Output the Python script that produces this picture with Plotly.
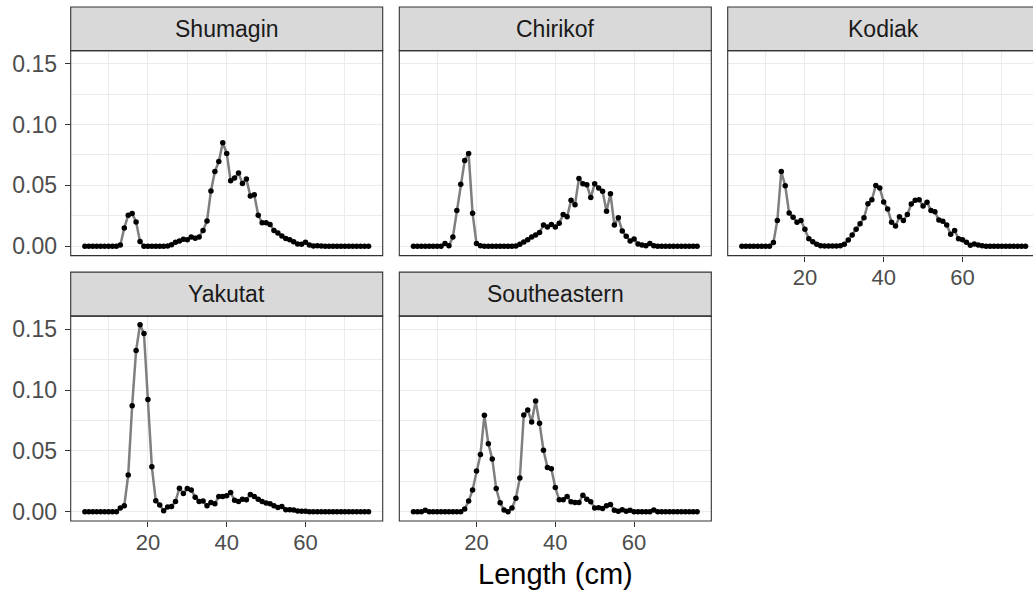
import plotly.graph_objects as go

# Length bins (cm)
length_cm = list(range(4, 77))

# Proportion at length, by region
shumagin = [0, 0, 0, 0, 0, 0, 0, 0, 0,
            0.001, 0.015, 0.0255, 0.027, 0.020, 0.004, 0, 0, 0, 0, 0, 0,
            0.0003, 0.0012, 0.0033, 0.0043, 0.0057, 0.0054, 0.0076, 0.0065, 0.0076, 0.013,
            0.0207, 0.0454, 0.0614, 0.0696, 0.085, 0.0763, 0.0538, 0.056, 0.0601, 0.0516,
            0.0552, 0.0413, 0.0424, 0.0255, 0.0193, 0.0193, 0.0179, 0.013, 0.0109, 0.0084,
            0.0063, 0.0054, 0.0038, 0.0019, 0.0016, 0.0033, 0.0011, 0.0003, 0.0005, 0.0003,
            0, 0, 0, 0, 0, 0, 0, 0, 0, 0, 0, 0]

chirikof = [0, 0, 0, 0, 0, 0, 0, 0,
            0.0022, 0.0005, 0.0076, 0.0293, 0.051, 0.0704, 0.0763, 0.0272, 0.0022, 0.0005,
            0, 0, 0, 0, 0, 0, 0, 0, 0.0003,
            0.0016, 0.0035, 0.0054, 0.0076, 0.0092, 0.0114, 0.0174, 0.0158, 0.0179, 0.0158,
            0.019, 0.026, 0.0242, 0.0378, 0.0342, 0.0557, 0.0514, 0.0505, 0.040, 0.0514,
            0.0478, 0.0451, 0.0288, 0.0432, 0.0174, 0.0234, 0.0125, 0.0082, 0.0043, 0.006,
            0.0019, 0.0011, 0.0005, 0.0022, 0.0005,
            0, 0, 0, 0, 0, 0, 0, 0, 0, 0, 0]

kodiak = [0, 0, 0, 0, 0, 0, 0, 0,
          0.003, 0.0212, 0.0614, 0.0497, 0.0274, 0.0239, 0.0198, 0.0212, 0.0139, 0.0062,
          0.0038, 0.0016, 0.0005, 0.0003, 0.0003, 0.0003, 0.0003, 0.0005, 0.0016, 0.0052,
          0.0092, 0.0139, 0.0185, 0.0234, 0.035, 0.0383, 0.050, 0.0478, 0.0364, 0.0307,
          0.0198, 0.0166, 0.0242, 0.0212, 0.026, 0.0348, 0.0378, 0.0383, 0.0331, 0.0361,
          0.0293, 0.0283, 0.0215, 0.0206, 0.0174, 0.0098, 0.013, 0.0062, 0.0054, 0.0033,
          0.0008, 0.0019, 0.0011, 0.0005,
          0, 0, 0, 0, 0, 0, 0, 0, 0, 0, 0]

yakutat = [0, 0, 0, 0, 0, 0, 0, 0, 0,
           0.003, 0.0049, 0.0301, 0.0871, 0.1324, 0.1536, 0.1465, 0.0922, 0.0369, 0.009,
           0.0054, 0.0008, 0.0038, 0.0043, 0.0084, 0.0193, 0.0149, 0.019, 0.0179, 0.0119,
           0.0084, 0.0087, 0.0049, 0.0076, 0.0065, 0.0125, 0.0125, 0.013, 0.0157, 0.0095,
           0.0084, 0.0103, 0.0098, 0.0141, 0.0125, 0.0103, 0.0084, 0.0071, 0.0065, 0.0049,
           0.0035, 0.0043, 0.0016, 0.0016, 0.0014, 0.0005, 0.0003, 0.0003,
           0, 0, 0, 0, 0, 0, 0, 0, 0, 0, 0, 0, 0, 0, 0, 0]

southeastern = [0, 0, 0, 0.0011,
                0, 0, 0, 0, 0, 0, 0, 0, 0,
                0.0022, 0.0087, 0.0179, 0.0334, 0.0469, 0.0792, 0.0559, 0.0434, 0.019, 0.0073,
                0.0014, 0.0, 0.003, 0.0111, 0.0277, 0.0795, 0.0836, 0.0738, 0.0909, 0.0727,
                0.0505, 0.0364, 0.0353, 0.0198, 0.0098, 0.0098, 0.0125, 0.0081, 0.0076, 0.0076,
                0.0136, 0.0103, 0.0081, 0.003, 0.0033, 0.0027, 0.0049, 0.006, 0.0011, 0.0003,
                0.0016, 0.0003, 0.0011,
                0, 0, 0, 0, 0,
                0.0014,
                0, 0, 0, 0, 0, 0, 0, 0, 0, 0, 0]

regions = ["Shumagin", "Chirikof", "Kodiak", "Yakutat", "Southeastern"]
series = [shumagin, chirikof, kodiak, yakutat, southeastern]

y_ticks = [0.0, 0.05, 0.10, 0.15]
y_tick_text = ["0.00", "0.05", "0.10", "0.15"]
x_ticks = [20, 40, 60]
x_tick_text = ["20", "40", "60"]

# ---- layout geometry (pixels) ----
W, H = 1033, 598
col_px = [(70.7, 382.7), (399.3, 711.3), (727.7, 1039.7)]
row_px = [(51.0, 257.3), (318.3, 524.5)]
strip_px = [(7.0, 51.0), (274.0, 318.3)]
x_lo, x_hi = 0.4, 79.6
y_lo, y_hi = -0.00765, 0.1607

panel_pos = [(0, 0), (0, 1), (0, 2), (1, 0), (1, 1)]

BORDER = "#333333"
GRID = "#EBEBEB"
FONT = "Liberation Sans"

fig = go.Figure()
shapes = []
annotations = []

def px_x(v):
    return v / W

def px_y(v):
    return 1 - v / H

for i, (name, vals) in enumerate(zip(regions, series)):
    r, c = panel_pos[i]
    k = "" if i == 0 else str(i + 1)
    xl, xr = col_px[c]
    yt, yb = row_px[r]
    # clip the last column at the figure edge, keeping the same scale
    scale = (xr - xl) / (x_hi - x_lo)
    xr_vis = min(xr, W)
    x_max = x_lo + (xr_vis - xl) / scale

    fig.add_trace(go.Scatter(
        x=length_cm, y=vals, mode="lines+markers",
        line=dict(color="#7F7F7F", width=2.5),
        marker=dict(color="black", size=5.5),
        xaxis="x" + k, yaxis="y" + k, showlegend=False, hoverinfo="skip",
    ))

    show_x_labels = (r == 1) or (r == 0 and c == 2)
    fig.update_layout(**{
        "xaxis" + k: dict(
            domain=[px_x(xl), px_x(xr_vis)], range=[x_lo, x_max], anchor="y" + k,
            tickmode="array", tickvals=x_ticks, ticktext=x_tick_text,
            showticklabels=show_x_labels,
            ticks="outside" if show_x_labels else "", ticklen=5, tickwidth=1.1, tickcolor=BORDER,
            tickfont=dict(family=FONT, size=22, color="#4D4D4D"),
            ticklabelstandoff=-3,
            showgrid=True, gridcolor=GRID, gridwidth=1.1, zeroline=False, showline=False,
            minor=dict(tickmode="array", tickvals=[10, 30, 50, 70], showgrid=True,
                       gridcolor=GRID, gridwidth=0.55, ticks=""),
            fixedrange=True,
        ),
        "yaxis" + k: dict(
            domain=[px_y(yb), px_y(yt)], range=[y_lo, y_hi], anchor="x" + k,
            tickmode="array", tickvals=y_ticks, ticktext=y_tick_text,
            showticklabels=(c == 0),
            ticks="outside" if c == 0 else "", ticklen=5, tickwidth=1.1, tickcolor=BORDER,
            tickfont=dict(family=FONT, size=23, color="#4D4D4D"),
            ticklabelstandoff=3,
            showgrid=True, gridcolor=GRID, gridwidth=1.1, zeroline=False, showline=False,
            minor=dict(tickmode="array", tickvals=[0.025, 0.075, 0.125], showgrid=True,
                       gridcolor=GRID, gridwidth=0.55, ticks=""),
            fixedrange=True,
        ),
    })

    # strip header
    st, sb = strip_px[r]
    shapes.append(dict(type="rect", xref="paper", yref="paper",
                       x0=px_x(xl), x1=px_x(xr), y0=px_y(sb), y1=px_y(st),
                       fillcolor="#D9D9D9", line=dict(color=BORDER, width=1.1), layer="above"))
    annotations.append(dict(text=name, xref="paper", yref="paper",
                            x=px_x((xl + xr) / 2), y=px_y((st + sb) / 2),
                            xanchor="center", yanchor="middle", showarrow=False,
                            font=dict(family=FONT, size=23, color="#1A1A1A")))
    # panel border
    shapes.append(dict(type="rect", xref="paper", yref="paper",
                       x0=px_x(xl), x1=px_x(xr), y0=px_y(yb), y1=px_y(yt),
                       fillcolor="rgba(0,0,0,0)", line=dict(color=BORDER, width=1.1), layer="above"))

annotations.append(dict(text="Length (cm)", xref="paper", yref="paper",
                        x=px_x((col_px[0][0] + col_px[2][1]) / 2), y=px_y(578),
                        xanchor="center", yanchor="middle", showarrow=False,
                        font=dict(family=FONT, size=29, color="black")))

fig.update_layout(
    width=W, height=H,
    margin=dict(l=0, r=0, t=0, b=0),
    paper_bgcolor="white", plot_bgcolor="white",
    shapes=shapes, annotations=annotations,
    hovermode=False,
)

fig.write_html("out.html", config={"displayModeBar": False})
